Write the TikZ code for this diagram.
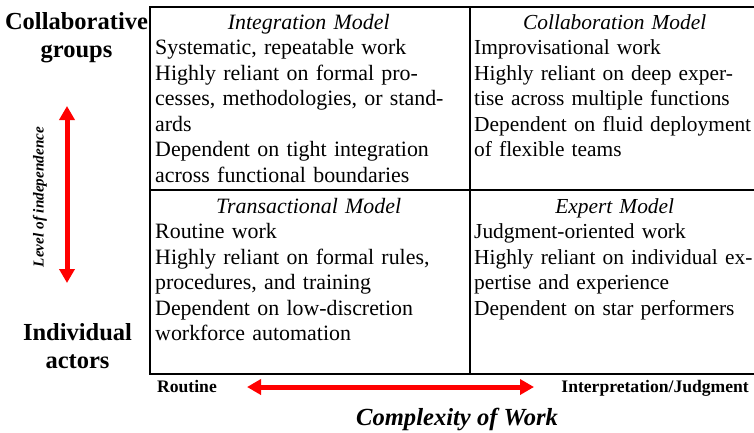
\documentclass[tikz,border=0pt]{standalone}
\usepackage{fontspec}
\setmainfont{Liberation Serif}
\usepackage{tikz}
\usetikzlibrary{positioning}
\usetikzlibrary{arrows.meta}

\begin{document}
\begin{tikzpicture}[x=1pt, y=-1pt,
    cell/.style={anchor=base west, inner sep=0pt, text width=310pt, align=left,
        font=\fontsize{21.9}{25.5}\selectfont},
    rcell/.style={cell, font=\fontsize{21.4}{25.5}\selectfont},
    side/.style={anchor=base, inner sep=0pt, align=center,
        font=\fontsize{24.5}{27.5}\selectfont\bfseries},
    axis/.style={inner sep=0pt, font=\fontsize{17.6}{20}\selectfont\bfseries},
    redarrow/.style={{Triangle[width=15pt,length=14pt]}-{Triangle[width=15pt,length=14pt]},
        red, line width=5pt}]
    \useasboundingbox (0,0) rectangle (754,432);

    % the four quadrants
    \draw[line width=2pt] (754,7) -- (150,7) -- (150,374) -- (754,374);
    \draw[line width=2pt] (470,7) -- (470,374);
    \draw[line width=2pt] (150,190) -- (754,190);

    \node[cell] (integration) at (155,29) {\makebox[307pt]{\itshape Integration Model}\\
        Systematic, repeatable work\\
        Highly reliant on formal pro-\\
        cesses, methodologies, or stand-\\
        ards\\
        Dependent on tight integration\\
        across functional boundaries};
    \node[rcell] (collaboration) at (474,29) {\makebox[281pt]{\itshape Collaboration Model}\\
        Improvisational work\\
        \makebox[276pt][s]{Highly reliant on deep exper-}\\
        tise across multiple functions\\
        Dependent on fluid deployment\\
        of flexible teams};
    \node[cell] (transactional) at (155,213) {\makebox[307pt]{\itshape Transactional Model}\\
        Routine work\\
        Highly reliant on formal rules,\\
        procedures, and training\\
        Dependent on low-discretion\\
        workforce automation};
    \node[rcell] (expert) at (474,213) {\makebox[281pt]{\itshape Expert Model}\\
        Judgment-oriented work\\
        Highly reliant on individual ex-\\
        pertise and experience\\
        Dependent on star performers};

    % vertical axis
    \node[side] (groups) at (76.5,57) {Collaborative\\groups};
    \node[side] (actors) at (77.5,368) {Individual\\actors};
    \coordinate (indeptop) at (67,106);
    \coordinate (indepbottom) at (67,283);
    \draw[redarrow] (indeptop) -- (indepbottom);
    \node[rotate=90, inner sep=0pt, font=\fontsize{15.2}{17}\selectfont\bfseries\itshape] (level) at (40,197) {Level of independence};

    % horizontal axis
    \node[axis, anchor=base west] (routine) at (157,392) {Routine};
    \node[axis, anchor=base east] (judgment) at (749,392) {Interpretation/Judgment};
    \coordinate (complexleft) at (247,387);
    \coordinate (complexright) at (534,387);
    \draw[redarrow] (complexleft) -- (complexright);
    \node[anchor=base, inner sep=0pt, font=\fontsize{24.6}{27}\selectfont\bfseries\itshape] (complexity) at (457,425) {Complexity of Work};
\end{tikzpicture}
\end{document}
